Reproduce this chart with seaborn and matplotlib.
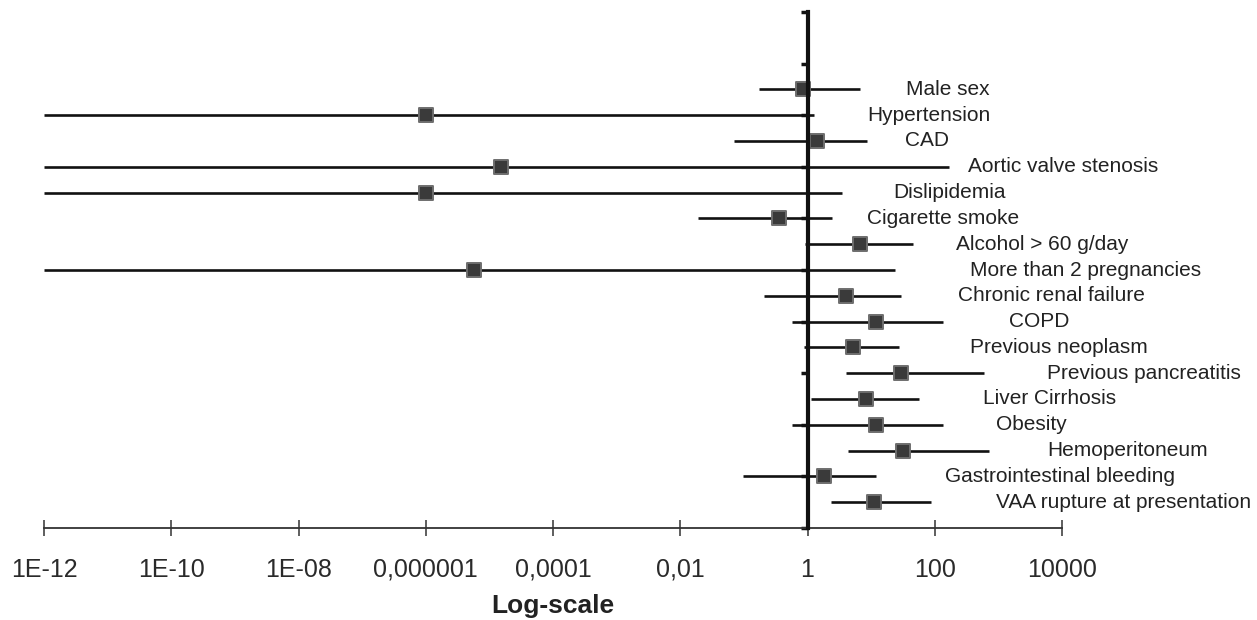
import matplotlib
matplotlib.use("Agg")
import matplotlib.pyplot as plt
import seaborn as sns
import numpy as np
import pandas as pd

# ---- data ----
factors = ["Male sex", "Hypertension", "CAD", "Aortic valve stenosis", "Dislipidemia",
           "Cigarette smoke", "Alcohol > 60 g/day", "More than 2 pregnancies",
           "Chronic renal failure", "COPD", "Previous neoplasm", "Previous pancreatitis",
           "Liver Cirrhosis", "Obesity", "Hemoperitoneum", "Gastrointestinal bleeding",
           "VAA rupture at presentation"]
odds_ratio = [0.85, 1e-6, 1.4, 1.5e-5, 1e-6, 0.36, 6.7, 5.7e-6, 4.0, 12, 5.2, 29,
              8.3, 12, 32, 1.8, 11]
ci_low = [0.17, 1e-12, 0.07, 1e-12, 1e-12, 0.019, 0.91, 1e-12, 0.21, 0.57, 0.88, 4.0,
          1.13, 0.57, 4.4, 0.097, 2.3]
ci_high = [6.7, 1.27, 8.6, 167, 3.5, 2.4, 45, 24, 29, 135, 27, 600, 57, 135, 725, 12, 87]
# where each row label starts (log10 of the x value)
label_start_log10 = [1.55, 0.94, 1.53, 2.53, 1.34, 0.94, 2.34, 2.56, 2.36, 3.17, 2.56,
                     3.77, 2.76, 2.96, 3.77, 2.16, 2.96]
tick_values = [1e-12, 1e-10, 1e-8, 1e-6, 1e-4, 1e-2, 1, 1e2, 1e4]
tick_labels = ["1E-12", "1E-10", "1E-08", "0,000001", "0,0001", "0,01", "1", "100", "10000"]

df = pd.DataFrame({"factor": factors, "or": odds_ratio, "lo": ci_low, "hi": ci_high,
                   "row": np.arange(len(factors))})

sns.set_theme(style="white")
plt.rcParams["font.family"] = ["Liberation Sans", "DejaVu Sans"]

W, H = 1257, 620
fig = plt.figure(figsize=(W / 100, H / 100), dpi=100)
ax = fig.add_axes([44 / W, 1 - 528 / H, (1062 - 44) / W, (528 - 12) / H])

ax.set_xscale("log")
ax.set_xlim(1e-12, 1e4)
ax.set_ylim(17, -3)

# confidence intervals
ax.hlines(df["row"], df["lo"], df["hi"], color="#111111", linewidth=1.9, zorder=2)
# point estimates
sns.scatterplot(data=df, x="or", y="row", marker="s", s=110, color="#3a3a3a",
                edgecolor="#6e6e6e", linewidth=1.4, ax=ax, zorder=3, legend=False)

# row labels
for f, lx, r in zip(df["factor"], label_start_log10, df["row"]):
    ax.text(10 ** lx, r, f, ha="left", va="center", fontsize=15, color="#222222",
            clip_on=False)

# axes styling
for s in ["top", "right"]:
    ax.spines[s].set_visible(False)
ax.spines["left"].set_position(("data", 1))
ax.spines["left"].set_linewidth(3.0)
ax.spines["left"].set_color("#111111")
ax.spines["left"].set_zorder(4)
ax.spines["bottom"].set_linewidth(1.3)
ax.spines["bottom"].set_color("#333333")

ax.set_xticks(tick_values)
ax.set_xticklabels(tick_labels)
ax.xaxis.set_minor_locator(matplotlib.ticker.NullLocator())
ax.tick_params(axis="x", direction="inout", length=11, width=1.1, color="#333333",
               pad=16, labelsize=18, labelcolor="#2a2a2a", bottom=True)

ax.set_yticks(np.arange(-3, 18, 2))
ax.set_yticklabels([])
ax.tick_params(axis="y", direction="out", length=5, width=2.5, color="#111111", left=True)

ax.set_xlabel("Log-scale", fontsize=19, fontweight="bold", color="#222222", labelpad=9)
ax.set_ylabel("")
ax.grid(False)

fig.savefig("out.png", dpi=100, facecolor="white")
